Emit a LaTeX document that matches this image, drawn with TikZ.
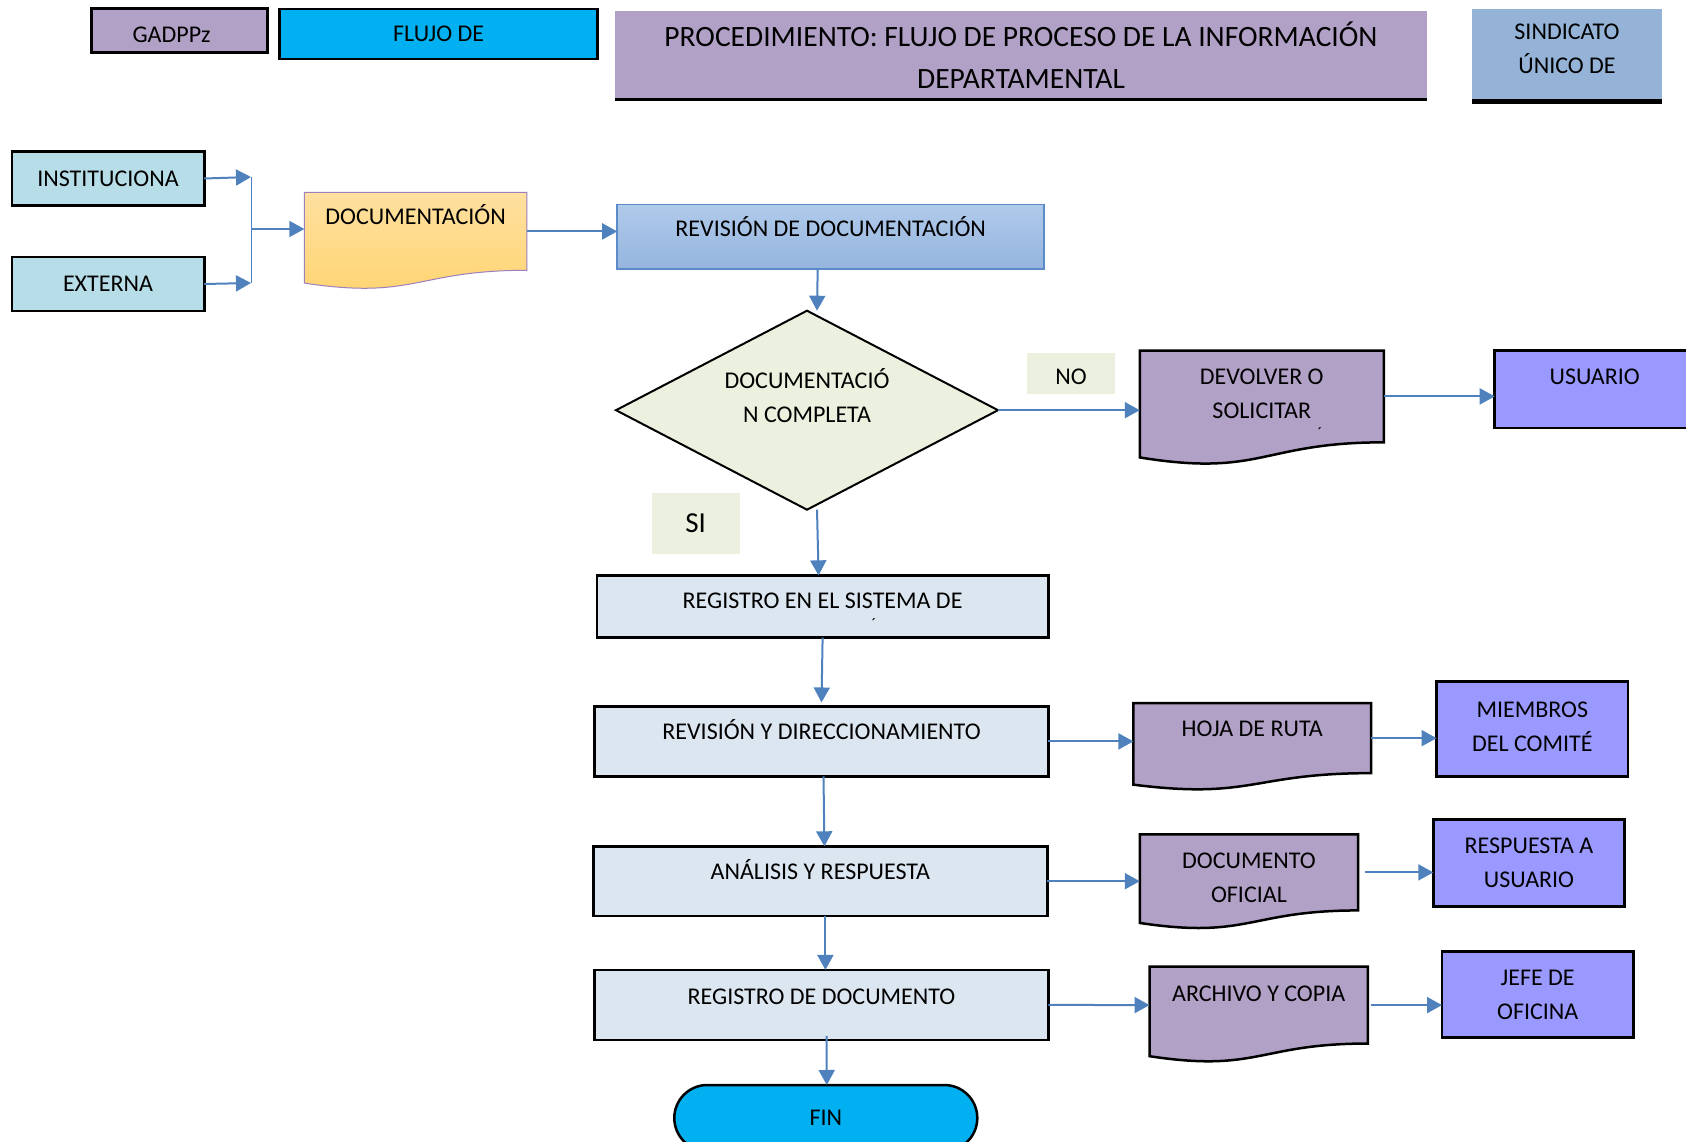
\documentclass[tikz,border=0pt]{standalone}
\usepackage{fontspec}
\setmainfont{Carlito}
\usetikzlibrary{arrows.meta,shapes.geometric,shapes.misc}

\definecolor{morado}{HTML}{B2A1C7}
\definecolor{celeste}{HTML}{00B0F0}
\definecolor{azulsind}{HTML}{95B3D7}
\definecolor{aguamar}{HTML}{B7DEE8}
\definecolor{revtop}{HTML}{B0CAEA}
\definecolor{revbot}{HTML}{95B5DE}
\definecolor{bordeazul}{HTML}{5B8BC9}
\definecolor{naranja1}{HTML}{FFE0A0}
\definecolor{naranja2}{HTML}{FFD470}
\definecolor{bordedoc}{HTML}{9B7FBF}
\definecolor{verdeclaro}{HTML}{EBF1DE}
\definecolor{proceso}{HTML}{DCE6F1}
\definecolor{lila}{HTML}{9999FF}
\definecolor{azulflecha}{HTML}{4F81BD}

% x y ancho alto relleno borde
\newcommand{\formadoc}[6]{%
  \path[#5,#6] (#1,#2) -- ++(#3,0) -- ++(0,{0.802*#4})
    .. controls ({#1+0.5*#3},{#2+0.802*#4}) and ({#1+0.5*#3},{#2+1.1075*#4}) .. ({#1},{#2+0.934*#4}) -- cycle;}

\begin{document}
\begin{tikzpicture}[x=1pt, y=-1pt,
    every node/.style={font=\fontsize{24}{34}\selectfont, align=center, inner sep=0pt, outer sep=0pt},
    caja/.style={draw, line width=2.5pt, rectangle},
    procbox/.style={caja, fill=proceso},
    actor/.style={caja, fill=lila},
    nota/.style={fill=verdeclaro},
    docnodo/.style={anchor=north west},
    flecha/.style={draw=azulflecha, line width=2pt, -{Triangle[length=15pt,width=16pt]}},
    uno/.style={text height=15pt, text depth=#1}, uno/.default=0pt,
    dos/.style={text height=49pt, text depth=#1}, dos/.default=0pt]
\useasboundingbox (0,0) rectangle (1686,1142);
\clip (0,0) rectangle (1686,1142);

\node[caja, fill=morado, minimum width=176pt, minimum height=44pt, text height=23pt, text depth=0pt] (gad) at (179.6,30.6) {\hspace*{-16pt}GADPPz};
\node[caja, fill=celeste, minimum width=318pt, minimum height=50pt, uno] (flujo) at (438.7,33.9) {FLUJO DE};
\node[fill=morado, minimum width=812pt, minimum height=89pt, font=\fontsize{29.5}{42}\selectfont, text height=66pt, text depth=0pt] (titulo) at (1021,55.4)
  {PROCEDIMIENTO: FLUJO DE PROCESO DE LA INFORMACIÓN\\DEPARTAMENTAL};
\draw[line width=3pt] (titulo.south west) -- (titulo.south east);
\node[fill=azulsind, minimum width=190pt, minimum height=95pt, dos=15pt] (sind) at (1567,56.5) {SINDICATO\\ÚNICO DE};
\draw[line width=5pt] ([yshift=2.5pt]sind.south west) -- ([yshift=2.5pt]sind.south east);

\node[caja, fill=aguamar, minimum width=192.5pt, minimum height=54pt, uno] (inst) at (108,178.5) {INSTITUCIONA};
\node[caja, fill=aguamar, minimum width=192.5pt, minimum height=54pt, uno] (ext) at (108,284) {EXTERNA};
\coordinate (barA) at (251,177);
\coordinate (barB) at (251,283);
\coordinate (barM) at (251,229);

\formadoc{304.3}{192.5}{222.6}{97}{top color=naranja1, bottom color=naranja2}{draw=bordedoc, line width=1pt}
\node[docnodo, minimum width=222.6pt, minimum height=77.8pt, uno=29pt] (docu) at (304.3,192.5) {DOCUMENTACIÓN};

\node[draw=bordeazul, line width=1.5pt, top color=revtop, bottom color=revbot, minimum width=427pt, minimum height=64.5pt, uno=15pt] (rev) at (830.7,236.6) {REVISIÓN DE DOCUMENTACIÓN};

\node[diamond, draw, line width=2pt, fill=verdeclaro, minimum width=382pt, minimum height=199pt, aspect=1.92, dos=25pt] (dec) at (807,410.2) {DOCUMENTACIÓ\\N COMPLETA};
\node[nota, minimum width=88pt, minimum height=41pt, text height=22pt, text depth=0pt] (no) at (1071,373) {NO};
\node[nota, minimum width=88pt, minimum height=61pt, font=\fontsize{29}{36}\selectfont, text height=18.3pt, text depth=0pt] (si) at (695.7,523) {SI};

\formadoc{1139.8}{350.5}{244}{114.5}{fill=morado}{draw, line width=2.5pt}
\node[docnodo, minimum width=244pt, minimum height=91.8pt, dos=5pt] (dev) at (1139.8,350.5) {DEVOLVER O\\SOLICITAR};
\node[font=\fontsize{16}{16}\selectfont] (tilde2) at (1320,433) {´};
\node[actor, anchor=west, minimum width=200pt, minimum height=77.5pt, uno=24pt] (usu) at (1494.7,389.3) {USUARIO};

\node[procbox, minimum width=451.6pt, minimum height=62.3pt, uno=11pt] (reg1) at (822.6,606.5) {REGISTRO EN EL SISTEMA DE};
\node[font=\fontsize{16}{16}\selectfont] (tilde1) at (874,624) {´};

\node[procbox, minimum width=453.8pt, minimum height=69.9pt, uno=18pt] (rev2) at (821.5,741.4) {REVISIÓN Y DIRECCIONAMIENTO};
\formadoc{1133.4}{703.2}{237.6}{87.2}{fill=morado}{draw, line width=2.5pt}
\node[docnodo, minimum width=237.6pt, minimum height=69.9pt, uno=18pt] (hoja) at (1133.4,703.2) {HOJA DE RUTA};
\node[actor, minimum width=191.4pt, minimum height=94.7pt, dos=5pt] (miem) at (1532.3,729) {MIEMBROS\\DEL COMITÉ};

\node[procbox, minimum width=453.7pt, minimum height=69.8pt, uno=18pt] (ana) at (820.4,881.2) {ANÁLISIS Y RESPUESTA};
\formadoc{1139.8}{834.4}{218.3}{94.8}{fill=morado}{draw, line width=2.5pt}
\node[docnodo, minimum width=218.3pt, minimum height=76pt, text height=60pt, text depth=0pt] (docof) at (1139.8,834.4) {DOCUMENTO\\OFICIAL};
\node[actor, minimum width=191.4pt, minimum height=87pt, dos] (resp) at (1529,863) {RESPUESTA A\\USUARIO};

\node[procbox, minimum width=453.8pt, minimum height=69.9pt, uno=16pt] (reg2) at (821.5,1004.9) {REGISTRO DE DOCUMENTO};
\formadoc{1149.5}{966.7}{218.3}{95.8}{fill=morado}{draw, line width=2.5pt}
\node[docnodo, minimum width=218.3pt, minimum height=76.8pt, uno=23pt] (arch) at (1149.5,966.7) {ARCHIVO Y COPIA};
\node[actor, minimum width=191.4pt, minimum height=86pt, dos] (jefe) at (1537.7,994.7) {JEFE DE\\OFICINA};

\node[rounded rectangle, draw, line width=2.5pt, fill=celeste, minimum width=303pt, minimum height=66pt, uno] (fin) at (825.8,1118) {FIN};

\draw[flecha] (inst.east) -- (barA);
\draw[flecha] (ext.east) -- (barB);
\draw[draw=azulflecha, line width=1pt] (barA) -- (barB);
\draw[flecha] (barM) -- (docu.west |- barM);
\draw[flecha] (docu.east) -- (docu.east -| rev.west);
\draw[flecha] ([xshift=-13pt]rev.south) -- ([xshift=10pt]dec.north);
\draw[flecha] (dec.east) -- (dec.east -| dev.west);
\draw[flecha] (dev.east) -- (usu.west |- dev.east);
\draw[flecha] ([xshift=10pt]dec.south) -- ([xshift=-4pt]reg1.north);
\draw[flecha] (reg1.south) -- ([yshift=4pt]rev2.north);
\draw[flecha] (rev2.east) -- (rev2.east -| hoja.west);
\draw[flecha] (hoja.east) -- (hoja.east -| miem.west);
\draw[flecha] ([xshift=2pt]rev2.south) -- ([xshift=4pt]ana.north);
\draw[flecha] (ana.east) -- (ana.east -| docof.west);
\draw[flecha] ([xshift=7pt]docof.east) -- (docof.east -| resp.west);
\draw[flecha] ([xshift=5pt]ana.south) -- ([xshift=5pt]ana.south |- reg2.north);
\draw[flecha] (reg2.east) -- (arch.west);
\draw[flecha] ([xshift=3pt]arch.east) -- (jefe.west |- arch.east);
\draw[flecha] ([xshift=5pt,yshift=4pt]reg2.south) -- ([xshift=1pt]fin.north);
\end{tikzpicture}
\end{document}
